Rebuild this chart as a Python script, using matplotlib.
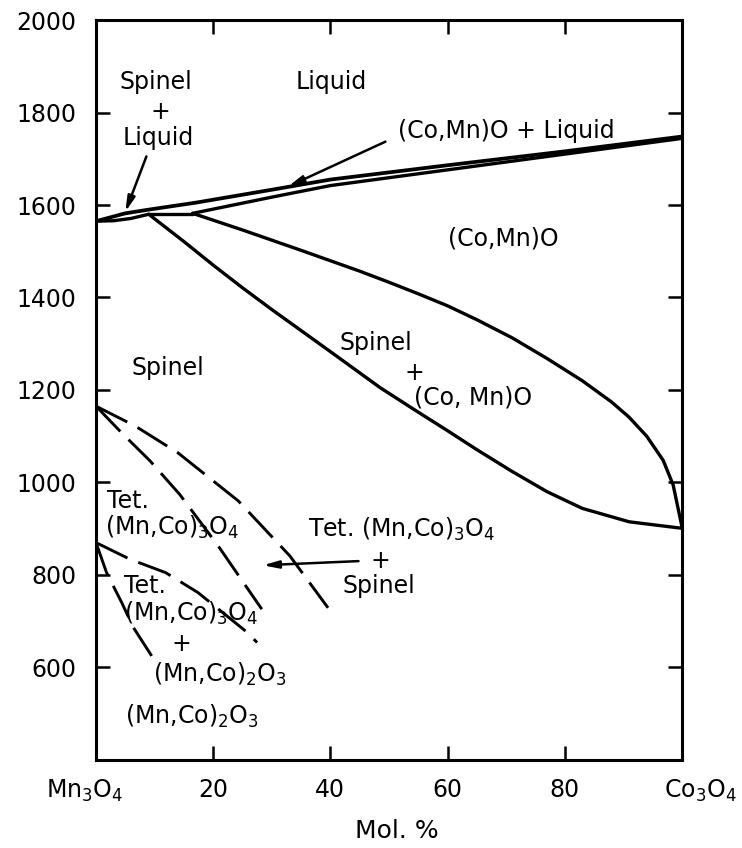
import matplotlib
matplotlib.use("Agg")
import matplotlib.pyplot as plt
from matplotlib.transforms import ScaledTranslation

plt.rcParams['font.family'] = ['DejaVu Sans']
plt.rcParams['mathtext.default'] = 'regular'

# ---- data (mol % Co3O4, temperature) ----
liquidus_x = [0, 5, 9, 17, 30, 40, 60, 80, 100]
liquidus_T = [1565, 1582, 1590, 1605, 1633, 1655, 1686, 1716, 1748]

spinel_solidus_x = [0, 3, 6, 9]
spinel_solidus_T = [1565, 1566, 1571, 1580]

peritectic_x = [9, 16.5]
peritectic_T = [1581, 1581]

rocksalt_solidus_x = [16.5, 30, 40, 60, 80, 100]
rocksalt_solidus_T = [1582, 1617, 1642, 1676, 1710, 1744]

spinel_solvus_x = [9, 15, 20, 25, 30, 40, 48.5, 55, 60, 65, 71, 77, 83, 91, 100]
spinel_solvus_T = [1580, 1521, 1470, 1421, 1374, 1283, 1205, 1152, 1112, 1071, 1024, 980, 944, 915, 901]

rocksalt_solvus_x = [16.5, 25, 35, 45, 50, 55, 60, 65, 71, 77, 83, 88, 91, 94, 96.8, 98.5, 100]
rocksalt_solvus_T = [1582, 1546, 1502, 1457, 1433, 1408, 1382, 1352, 1313, 1268, 1220, 1174, 1141, 1100, 1048, 995, 905]

tet_outer_x = [0, 6.7, 14, 24.3, 33.1, 39.6]
tet_outer_T = [1165, 1122, 1064, 960, 841, 729]

tet_inner_x = [0, 4.4, 9.2, 14.3, 20.9, 28.3]
tet_inner_T = [1165, 1107, 1047, 974, 862, 726]

low_steep_x = [0, 1.8, 4.4, 6.4, 9.5]
low_steep_T = [870, 805, 740, 686, 625]

low_shallow_x = [0, 5.8, 11.9, 17.4, 25.6, 27.5]
low_shallow_T = [870, 834, 805, 762, 678, 654]

x_ticks = [0, 20, 40, 60, 80, 100]
x_ticklabels = ['Mn$_3$O$_4$', '20', '40', '60', '80', 'Co$_3$O$_4$']
y_ticks = [600, 800, 1000, 1200, 1400, 1600, 1800, 2000]
y_ticklabels = ['600', '800', '1000', '1200', '1400', '1600', '1800', '2000']

labels = [
    ('Spinel', 10.2, 1867, 'center'),
    ('+', 10.9, 1802, 'center'),
    ('Liquid', 10.7, 1745, 'center'),
    ('Liquid', 40.1, 1867, 'center'),
    ('(Co,Mn)O + Liquid', 70.0, 1759, 'center'),
    ('(Co,Mn)O', 69.6, 1528, 'center'),
    ('Spinel', 47.8, 1302, 'center'),
    ('+', 54.3, 1237, 'center'),
    ('(Co, Mn)O', 64.3, 1183, 'center'),
    ('Spinel', 12.3, 1248, 'center'),
    ('Tet.', 1.8, 960, 'left'),
    ('(Mn,Co)$_3$O$_4$', 1.5, 902, 'left'),
    ('Tet. (Mn,Co)$_3$O$_4$', 52.2, 898, 'center'),
    ('+', 48.6, 830, 'center'),
    ('Spinel', 48.2, 776, 'center'),
    ('Tet.', 8.4, 776, 'center'),
    ('(Mn,Co)$_3$O$_4$', 4.7, 718, 'left'),
    ('+', 14.6, 650, 'center'),
    ('(Mn,Co)$_2$O$_3$', 9.8, 585, 'left'),
    ('(Mn,Co)$_2$O$_3$', 4.9, 495, 'left'),
]

arrows = [
    ((5.0, 1585), (8.6, 1705)),
    ((32.8, 1640), (49.4, 1737)),
    ((28.5, 821), (44.8, 830)),
]

# ---- figure ----
fig = plt.figure(figsize=(7.42, 8.48), dpi=100)
ax = fig.add_axes([0.1294, 0.1038, 0.7896, 0.8726])

solid = dict(color='black', lw=2.4, solid_capstyle='round', solid_joinstyle='round')
ax.plot(liquidus_x, liquidus_T, color='black', lw=2.7, solid_joinstyle='round')
ax.plot(spinel_solidus_x, spinel_solidus_T, **solid)
ax.plot(peritectic_x, peritectic_T, **solid)
ax.plot(rocksalt_solidus_x, rocksalt_solidus_T, **solid)
ax.plot(spinel_solvus_x, spinel_solvus_T, **solid)
ax.plot(rocksalt_solvus_x, rocksalt_solvus_T, **solid)

dashed = dict(color='black', lw=2.1, dashes=(12, 4))
ax.plot(tet_outer_x, tet_outer_T, **dashed)
ax.plot(tet_inner_x, tet_inner_T, **dashed)
ax.plot(low_steep_x, low_steep_T, **dashed)
ax.plot(low_shallow_x, low_shallow_T, **dashed)

for txt, x, y, ha in labels:
    ax.text(x, y, txt, fontsize=17, ha=ha, va='center')

for tip, tail in arrows:
    ax.annotate('', xy=tip, xytext=tail,
                arrowprops=dict(arrowstyle='-|>,head_length=0.9,head_width=0.22',
                                color='black', lw=1.8, shrinkA=0, shrinkB=0))

ax.set_xlim(0, 100)
ax.set_ylim(400, 2000)
ax.set_xticks(x_ticks)
ax.set_xticklabels(x_ticklabels)
ax.set_yticks(y_ticks)
ax.set_yticklabels(y_ticklabels)
ax.tick_params(axis='both', direction='in', length=10, width=1.8,
               top=True, right=True, labelsize=17)
ax.tick_params(axis='x', pad=13)
ax.tick_params(axis='y', pad=14)
for sp in ax.spines.values():
    sp.set_linewidth(2.2)

xl = ax.get_xticklabels()
xl[0].set_transform(xl[0].get_transform() + ScaledTranslation(-11 / 100, 0, fig.dpi_scale_trans))
xl[-1].set_transform(xl[-1].get_transform() + ScaledTranslation(18 / 100, 0, fig.dpi_scale_trans))

ax.set_xlabel('Mol. %', fontsize=18)
ax.xaxis.set_label_coords(0.514, -0.080)

fig.savefig('out.png', dpi=100, facecolor='white')
